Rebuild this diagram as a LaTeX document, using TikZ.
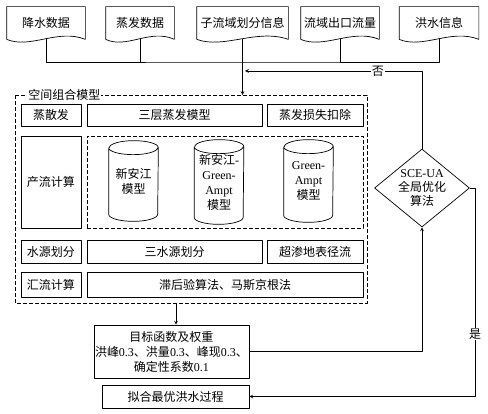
\documentclass[tikz,border=0pt]{standalone}
\usepackage{fontspec}
\setmainfont{Liberation Serif}
\newfontfamily\cjk{Noto Sans CJK SC}
\usetikzlibrary{shapes.geometric,calc}
\newcommand\latn[1]{{\rmfamily #1}}
\begin{document}
\begin{tikzpicture}[x=1pt, y=-1pt, font=\fontsize{12}{15}\selectfont\cjk, line join=round, >=stealth, line width=0.7pt,
	box/.style={draw, inner sep=0pt, align=center},
	dbox/.style={draw, dash pattern=on 4pt off 2pt, inner sep=0pt},
	doc/.style={inner sep=0pt, minimum height=32pt},
	tube/.style={inner sep=0pt, align=center, minimum width=49pt}]
	\useasboundingbox (0,0) rectangle (488,414);
	\node[doc, minimum width=78pt] (d1) at (46,23) {降水数据};
	\node[doc, minimum width=68pt] (d2) at (140,23) {蒸发数据};
	\node[doc, minimum width=91pt] (d3) at (242.5,23) {子流域划分信息};
	\node[doc, minimum width=78pt] (d4) at (340,23) {流域出口流量};
	\node[doc, minimum width=79pt] (d5) at (439,23) {洪水信息};
	\foreach \n in {d1,d2,d3,d4,d5}
		\draw (\n.south west) -- (\n.north west) -- (\n.north east) -- (\n.south east)
		.. controls ($(\n.south west)!0.65!(\n.south east)+(0,-11)$) and ($(\n.south west)!0.3!(\n.south east)+(0,10)$) .. (\n.south west);
	\draw[dbox] (15,95) rectangle (367,303);
	\coordinate (kjnw) at (15,95);
	\coordinate (kjs) at (176,303);
	\node[fill=white, inner sep=1pt, anchor=west] (kjlab) at ([xshift=12pt]kjnw) {空间组合模型};
	\node[box, minimum width=60pt, minimum height=22pt] (zsf) at (51,115) {蒸散发};
	\node[box, minimum width=175pt, minimum height=22pt] (sczf) at (174.5,115) {三层蒸发模型};
	\node[box, minimum width=96pt, minimum height=22pt] (zfss) at (315,115) {蒸发损失扣除};
	\node[box, minimum width=60pt, minimum height=92pt] (cl) at (51,182) {产流计算};
	\node[dbox, minimum width=276pt, minimum height=92pt] (mx) at (225,182) {};
	\node[tube, minimum height=80pt] (xaj) at (133.5,181) {新安江\\模型};
	\node[tube, minimum height=84pt] (xga) at (219,182) {新安江\latn{-}\\\latn{Green-}\\\latn{Ampt}\\模型};
	\node[tube, minimum height=82pt] (ga) at (308.5,181) {\latn{Green-}\\\latn{Ampt}\\模型};
	\foreach \n in {xaj,xga,ga}
		\draw ([yshift=-7pt]\n.north west) -- ([yshift=7pt]\n.south west)
		arc[start angle=180, end angle=360, x radius=24.5pt, y radius=7pt] -- ([yshift=-7pt]\n.north east)
		arc[start angle=0, end angle=180, x radius=24.5pt, y radius=7pt]
		([yshift=-7pt]\n.north west) arc[start angle=180, end angle=360, x radius=24.5pt, y radius=7pt];
	\node[box, minimum width=60pt, minimum height=23pt] (syhf) at (51,251.5) {水源划分};
	\node[box, minimum width=175pt, minimum height=23pt] (ssy) at (174.5,251.5) {三水源划分};
	\node[box, minimum width=96pt, minimum height=23pt] (cs) at (315,251.5) {超渗地表径流};
	\node[box, minimum width=60pt, minimum height=25pt] (hl) at (51,284.5) {汇流计算};
	\node[box, minimum width=276pt, minimum height=25pt] (zh) at (225,284.5) {滞后验算法、马斯京根法};
	\node[box, minimum width=155pt, minimum height=53pt] (mb) at (171.5,351.5) {目标函数及权重\\洪峰\latn{0.3}、洪量\latn{0.3}、峰现\latn{0.3}、\\确定性系数\latn{0.1}};
	\node[box, minimum width=147pt, minimum height=23pt] (nh) at (175.5,396.5) {拟合最优洪水过程};
	\node[draw, diamond, aspect=1.17, inner sep=0pt, align=center, minimum width=95pt, font=\fontsize{12}{14}\selectfont\cjk] (sce) at (422,188) {\latn{SCE-UA}\\全局优化\\算法};
	\coordinate (bus) at (243,62);
	\coordinate (fb) at (245,71);
	\coordinate (r) at (475,188);
	\draw (d1.south) |- (bus) -| (d5.south) (d2.south) -- (d2.south |- bus) (d4.south) -- (d4.south |- bus);
	\draw[->] (d3.south) -- (d3.south |- kjnw);
	\draw[->] (sce.north) |- node[pos=0.625, fill=white, inner sep=1pt] {否} (fb);
	\draw[->] (kjs) -- (kjs |- mb.north);
	\draw[->] (mb.east) -| (sce.south);
	\draw[->] (sce.east) -- (r) |- node[pos=0.35, fill=white, inner sep=1pt] {是} (nh.east);
\end{tikzpicture}
\end{document}
